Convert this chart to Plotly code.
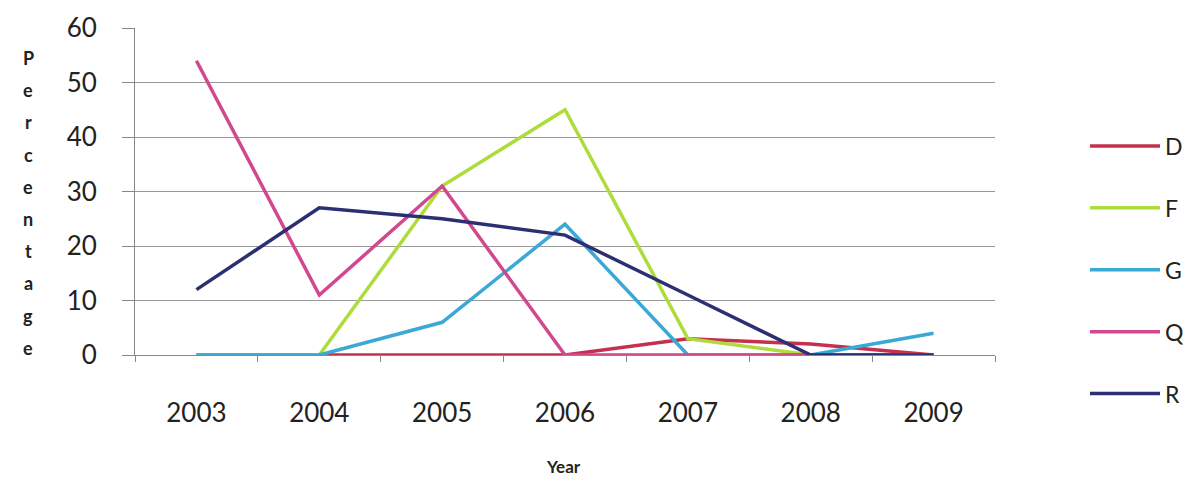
import plotly.graph_objects as go

years = ["2003", "2004", "2005", "2006", "2007", "2008", "2009"]
D = [0, 0, 0, 0, 3, 2, 0]
F = [0, 0, 31, 45, 3, 0, 0]
G = [0, 0, 6, 24, 0, 0, 4]
Q = [54, 11, 31, 0, 0, 0, 0]
R = [12, 27, 25, 22, 11, 0, 0]

series = [("D", D, "#C4304E"), ("F", F, "#AEDC3C"), ("G", G, "#3AA9D6"),
          ("Q", Q, "#D2488E"), ("R", R, "#2C2F72")]

fig = go.Figure()
for i, (name, vals, col) in enumerate(series):
    fig.add_trace(go.Scatter(x=years, y=vals, mode="lines", name=name,
                             legendgroup=name,
                             line=dict(color=col, width=3.5)))

font = "Lato, 'Open Sans', sans-serif"
W, H = 1192, 488
L, T, PW, PH = 127, 20, 860, 327
fig.update_layout(
    width=W, height=H,
    margin=dict(l=L, r=W - L - PW, t=T, b=H - T - PH, autoexpand=False),
    paper_bgcolor="white", plot_bgcolor="white",
    font=dict(family=font, color="#222"),
    showlegend=True,
    legend=dict(x=(1085 - 8 - L) / PW, y=(347 - 262) / PH, xanchor="left", yanchor="middle",
                font=dict(size=23, family=font, color="#222"),
                itemwidth=70, maxheight=440,
                tracegroupgap=29, bgcolor="rgba(0,0,0,0)"),
    xaxis=dict(type="category", range=[-0.5, 6.5], tickson="boundaries",
               ticks="outside", ticklen=6, tickcolor="#888",
               showline=True, linecolor="#888", linewidth=1,
               showgrid=False, tickfont=dict(size=26, family=font, color="#222"),
               ticklabelstandoff=35),
    yaxis=dict(range=[0, 60], dtick=10, ticks="outside", ticklen=12,
               tickcolor="#888", showline=True, linecolor="#888",
               gridcolor="#999", gridwidth=1, zeroline=False,
               tickfont=dict(size=26, family=font, color="#222"),
               ticklabelstandoff=20),
)

letters = list("Percentage")
for k, ch in enumerate(letters):
    ypix = 58 + k * 32.2 - 8
    fig.add_annotation(text="<b>%s</b>" % ch, xref="paper", yref="paper",
                       x=(28 - 8 - L) / PW, y=(T + PH - ypix) / PH,
                       xanchor="center", yanchor="middle",
                       showarrow=False, font=dict(size=18, family=font, color="#222"))

fig.add_annotation(text="<b>Year</b>", xref="paper", yref="paper",
                   x=(563 - 8 - L) / PW, y=(T + PH - (467 - 8)) / PH,
                   xanchor="center", yanchor="middle", showarrow=False,
                   font=dict(size=17, family=font, color="#222"))

fig.write_html("out.html")
